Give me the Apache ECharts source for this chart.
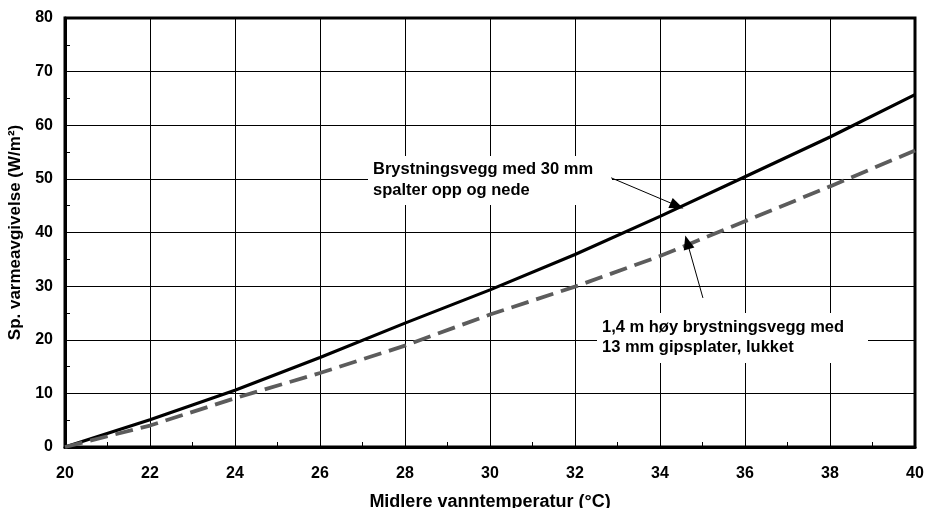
<!DOCTYPE html>
<html>
<head>
<meta charset="utf-8">
<script src="https://cdn.jsdelivr.net/npm/echarts@6/dist/echarts.min.js"></script>
<style>
html,body{margin:0;padding:0;background:#fff;}
#c{width:925px;height:508px;}
</style>
</head>
<body>
<div id="c"></div>
<script>
var temps = [20, 22, 24, 26, 28, 30, 32, 34, 36, 38, 40];
var open30mm = [0, 5.1, 10.6, 16.7, 23.1, 29.3, 35.9, 43.0, 50.4, 57.8, 65.7];
var closed13mm = [0, 4.0, 9.1, 13.8, 18.9, 24.7, 29.9, 35.6, 42.1, 48.6, 55.3];
var xTitle = 'Midlere vanntemperatur (°C)';
var yTitle = 'Sp. varmeavgivelse (W/m²)';
var label1 = 'Brystningsvegg med 30 mm\nspalter opp og nede';
var label2 = '1,4 m høy brystningsvegg med\n13 mm gipsplater, lukket';
var arrow1 = [[32.85, 50.2], [34.4, 45.0]];
var arrow2 = [[35.01, 27.8], [34.64, 38.2]];

function pairs(xs, ys) { return xs.map(function (x, i) { return [x, ys[i]]; }); }

var FONT = '"Liberation Sans", Arial, sans-serif';
var chart = echarts.init(document.getElementById('c'), null, {renderer: 'canvas'});
chart.setOption({
  animation: false,
  backgroundColor: '#fff',
  grid: {left: 65, right: 10, top: 18, bottom: 61, show: true, borderColor: '#000', borderWidth: 3, backgroundColor: 'transparent', containLabel: false, outerBoundsMode: 'none'},
  xAxis: {
    type: 'value', min: 20, max: 40, interval: 2,
    name: xTitle, nameLocation: 'middle', nameGap: 46,
    nameTextStyle: {fontFamily: FONT, fontWeight: 'bold', fontSize: 18, color: '#000'},
    axisLine: {show: true, lineStyle: {color: '#000', width: 3}},
    axisTick: {show: true, inside: true, length: 5, lineStyle: {color: '#000', width: 1}},
    minorTick: {show: true, splitNumber: 2, length: 5, lineStyle: {color: '#000', width: 1}},
    splitLine: {show: true, lineStyle: {color: '#000', width: 1}},
    axisLabel: {fontFamily: FONT, fontWeight: 'bold', fontSize: 16, color: '#000', margin: 19}
  },
  yAxis: {
    type: 'value', min: 0, max: 80, interval: 10,
    name: yTitle, nameLocation: 'middle', nameGap: 38, nameRotate: 90,
    nameTextStyle: {fontFamily: FONT, fontWeight: 'bold', fontSize: 17, color: '#000'},
    axisLine: {show: true, lineStyle: {color: '#000', width: 3}},
    axisTick: {show: true, inside: true, length: 5, lineStyle: {color: '#000', width: 1}},
    minorTick: {show: true, splitNumber: 2, length: 5, lineStyle: {color: '#000', width: 1}},
    splitLine: {show: true, lineStyle: {color: '#000', width: 1}},
    axisLabel: {fontFamily: FONT, fontWeight: 'bold', fontSize: 16, color: '#000', margin: 12}
  },
  series: [
    {
      type: 'line', name: 'open', data: pairs(temps, open30mm), symbol: 'none', smooth: false,
      lineStyle: {color: '#000', width: 3.2},
      markLine: {
        silent: true, symbol: ['none', 'triangle'], symbolSize: [11, 14], z: 10,
        label: {show: false},
        lineStyle: {color: '#000', width: 1, type: 'solid'},
        data: [
          [{coord: arrow1[0]}, {coord: arrow1[1]}],
          [{coord: arrow2[0]}, {coord: arrow2[1]}]
        ]
      }
    },
    {
      type: 'line', name: 'closed', data: pairs(temps, closed13mm), symbol: 'none', smooth: false,
      lineStyle: {color: '#5c5c5c', width: 3.8, type: [18, 8]}
    }
  ],
  graphic: [
    {type: 'rect', z: 4, shape: {x: 368, y: 156, width: 244, height: 49}, style: {fill: '#fff'}},
    {type: 'text', z: 5, x: 373, y: 159, style: {text: label1, font: 'bold 16.5px ' + FONT, fill: '#000', lineHeight: 21}},
    {type: 'rect', z: 4, shape: {x: 597, y: 313, width: 271, height: 50}, style: {fill: '#fff'}},
    {type: 'text', z: 5, x: 602, y: 317, style: {text: label2, font: 'bold 16.5px ' + FONT, fill: '#000', lineHeight: 20}}
  ]
});
</script>
</body>
</html>
